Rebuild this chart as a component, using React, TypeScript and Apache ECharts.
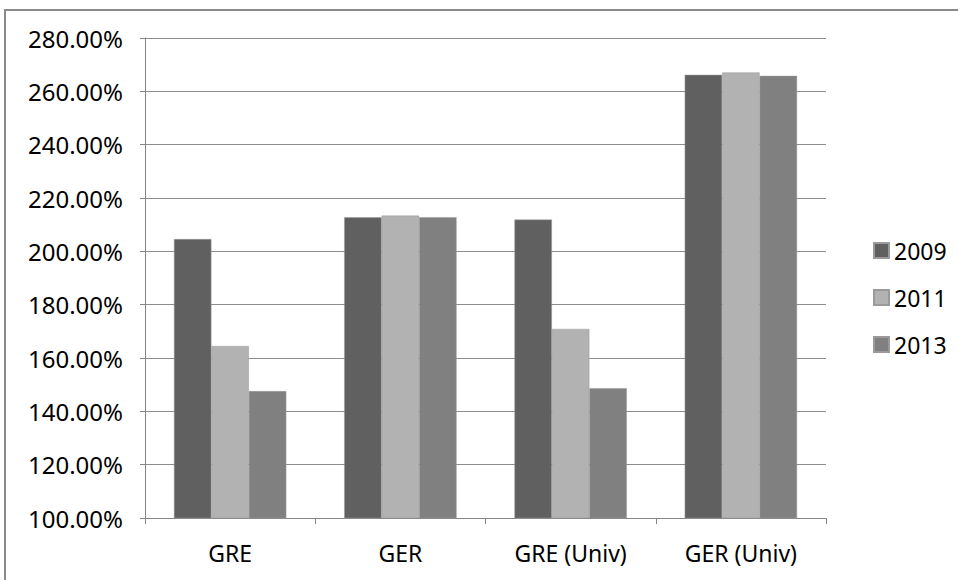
import React, { useEffect, useRef } from "react";
import * as echarts from "echarts";

const categories = ["GRE", "GER", "GRE (Univ)", "GER (Univ)"];
const seriesNames = ["2009", "2011", "2013"];
const values2009 = [204.6, 212.8, 211.9, 266.2];
const values2011 = [164.5, 213.4, 170.9, 267.1];
const values2013 = [147.6, 212.8, 148.7, 265.8];
const colors = ["#606060", "#b2b2b2", "#808080"];

export default function App() {
  const ref = useRef<HTMLDivElement>(null);
  useEffect(() => {
    const chart = echarts.init(ref.current!, null, { renderer: "svg" });
    const font = "Noto Sans";
    const data = [values2009, values2011, values2013];
    chart.setOption({
      animation: false,
      backgroundColor: "#ffffff",
      textStyle: { fontFamily: font },
      graphic: [
        {
          type: "rect",
          shape: { x: 5, y: 10, width: 1000, height: 620 },
          style: { fill: "none", stroke: "#8a8a8a", lineWidth: 2 },
          silent: true,
        },
      ],
      grid: { left: 145, right: 132, top: 38, bottom: 62 },
      legend: {
        orient: "vertical",
        left: 868,
        top: 234,
        itemWidth: 15,
        itemHeight: 15,
        itemGap: 24,
        icon: "rect",
        textStyle: { fontSize: 23, color: "#000", fontFamily: font },
        data: seriesNames,
      },
      xAxis: {
        type: "category",
        data: categories,
        axisLine: { lineStyle: { color: "#868686", width: 1 } },
        axisTick: { show: true, length: 6, alignWithLabel: false, lineStyle: { color: "#868686" } },
        axisLabel: { fontSize: 23, color: "#000", margin: 23, fontFamily: font },
      },
      yAxis: {
        type: "value",
        min: 100,
        max: 280,
        interval: 20,
        axisLine: { show: true, lineStyle: { color: "#868686", width: 1 } },
        axisTick: { show: true, length: 5, lineStyle: { color: "#868686" } },
        splitLine: { lineStyle: { color: "#8c8c8c", width: 1 } },
        axisLabel: {
          fontSize: 24,
          color: "#000",
          margin: 22,
          fontFamily: font,
          formatter: (v: number) => v.toFixed(2) + "%",
        },
      },
      series: seriesNames.map((name, i) => ({
        name,
        type: "bar",
        data: data[i],
        barGap: "0%",
        barCategoryGap: "34%",
        itemStyle: { color: colors[i], borderColor: "#9a9a9a", borderWidth: 0.5 },
      })),
    });
    return () => chart.dispose();
  }, []);
  return (
    <div
      ref={ref}
      style={{ position: "fixed", left: 0, top: 0, width: 958, height: 580 }}
    />
  );
}
